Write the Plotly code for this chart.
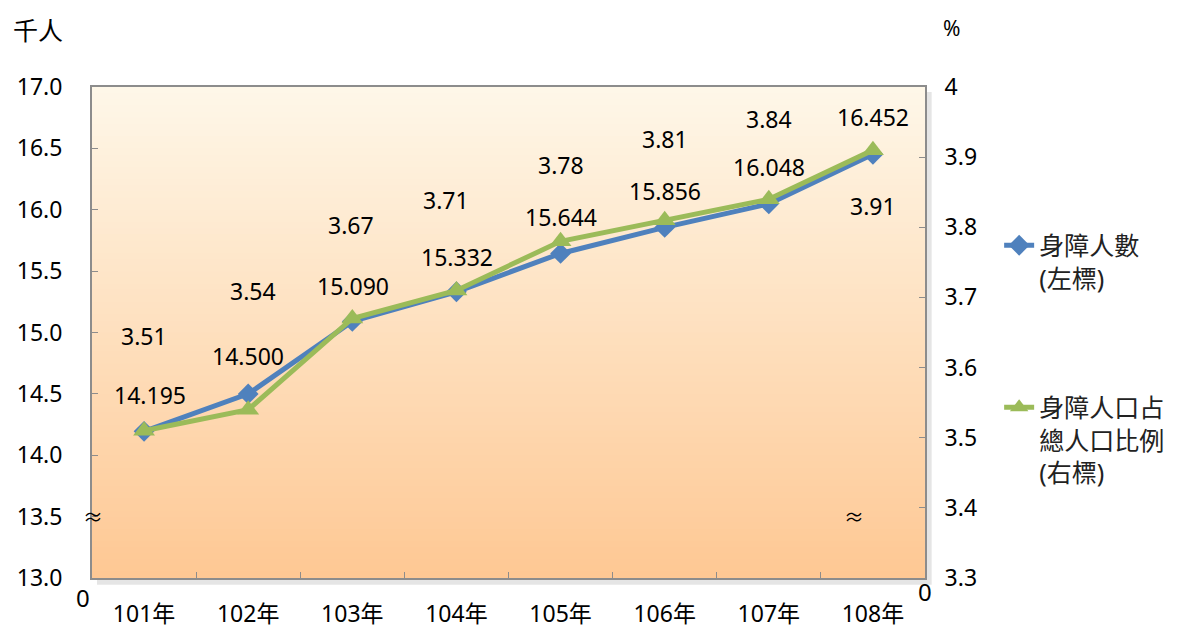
import plotly.graph_objects as go

categories = ["101年", "102年", "103年", "104年", "105年", "106年", "107年", "108年"]
people = [14.195, 14.500, 15.090, 15.332, 15.644, 15.856, 16.048, 16.452]
ratio = [3.51, 3.54, 3.67, 3.71, 3.78, 3.81, 3.84, 3.91]
people_labels = ["14.195", "14.500", "15.090", "15.332", "15.644", "15.856", "16.048", "16.452"]
ratio_labels = ["3.51", "3.54", "3.67", "3.71", "3.78", "3.81", "3.84", "3.91"]
left_ticks = [13.0, 13.5, 14.0, 14.5, 15.0, 15.5, 16.0, 16.5, 17.0]
right_ticks = [3.3, 3.4, 3.5, 3.6, 3.7, 3.8, 3.9, 4.0]
right_tick_text = ["3.3", "3.4", "3.5", "3.6", "3.7", "3.8", "3.9", "4"]

# label offsets (style)
people_dx = [6, 0, 1, 1, 0, 0, 0, 0]
people_dy = [36, 38, 35, 35, 36, 36, 37, 37]
ratio_dx = [0, 5, -1, -10, 0, 0, 0, 0]
ratio_dy = [95, 119, 93, 90, 76, 81, 80, -56]

FONT = "Noto Sans, Noto Sans CJK TC"
BLUE = "#4F81BD"
GREEN = "#9BBB59"

fig = go.Figure()
fig.add_trace(go.Scatter(
    x=categories, y=people, name="身障人數<br>(左標)", mode="lines+markers",
    line=dict(color=BLUE, width=5), marker=dict(symbol="diamond", size=16, color=BLUE),
    legendgroup="a", yaxis="y"))
fig.add_trace(go.Scatter(
    x=categories, y=ratio, name="身障人口占<br>總人口比例<br>(右標)", mode="lines+markers",
    line=dict(color=GREEN, width=5), marker=dict(symbol="triangle-up", size=19, color=GREEN),
    legendgroup="b", yaxis="y2"))

shapes = []
# soft shadow
shapes.append(dict(type="rect", xref="paper", yref="paper", x0=0.006, x1=1.008, y0=-0.014, y1=0.99,
                   fillcolor="rgba(0,0,0,0.10)", line=dict(width=0), layer="below"))
# gradient background
n = 80
top = (254, 247, 232)
bot = (254, 200, 148)
for i in range(n):
    t = i / (n - 1)
    c = tuple(round(bot[k] + (top[k] - bot[k]) * t) for k in range(3))
    shapes.append(dict(type="rect", xref="paper", yref="paper", x0=0, x1=1,
                       y0=i / n, y1=(i + 1) / n + 0.002,
                       fillcolor="rgb(%d,%d,%d)" % c, line=dict(width=0), layer="below"))

ann = []
for c, v, t, dx, dy in zip(categories, people, people_labels, people_dx, people_dy):
    ann.append(dict(x=c, y=v, xref="x", yref="y", text=t, showarrow=False,
                    xanchor="center", yanchor="middle",
                    xshift=dx, yshift=dy, font=dict(size=23, color="black", family=FONT)))
for c, v, t, dx, dy in zip(categories, ratio, ratio_labels, ratio_dx, ratio_dy):
    ann.append(dict(x=c, y=v, xref="x", yref="y2", text=t, showarrow=False,
                    xanchor="center", yanchor="middle",
                    xshift=dx, yshift=dy, font=dict(size=23, color="black", family=FONT)))

extra = [
    ("千人", -0.065, 1.116, 25),
    ("%", 1.032, 1.12, 21),
    ("0", -0.011, -0.039, 24),
    ("0", 1.0, -0.028, 24),
    ("≈", 0.001, 0.124, 20),
    ("≈", 0.915, 0.124, 20),
]
for t, x, y, s in extra:
    ann.append(dict(x=x, y=y, xref="paper", yref="paper", text=t, showarrow=False,
                    xanchor="center", yanchor="middle",
                    font=dict(size=s, color="black", family=FONT)))

fig.update_layout(
    width=1184, height=628,
    margin=dict(l=84, r=267, t=79, b=58, autoexpand=False),
    paper_bgcolor="white", plot_bgcolor="rgba(0,0,0,0)",
    font=dict(family=FONT, size=23, color="black"),
    shapes=shapes, annotations=ann,
    showlegend=True,
    legend=dict(x=1.089, y=0.724, xanchor="left", yanchor="top", valign="top",
                bgcolor="rgba(0,0,0,0)", tracegroupgap=94,
                font=dict(size=25, family=FONT, color="#222")),
    xaxis=dict(type="category", range=[-0.5, 7.5], showline=True, mirror=True,
               linecolor="#8c8c8c", linewidth=2, ticks="inside", tickson="boundaries",
               ticklen=6, tickcolor="#8c8c8c", showgrid=False, zeroline=False,
               automargin=False, ticklabelstandoff=14, tickfont=dict(size=23)),
    yaxis=dict(range=[13.0, 17.0], tickvals=left_ticks, tickformat=".1f",
               showline=True, linecolor="#8c8c8c", linewidth=2, ticks="inside",
               ticklen=6, tickcolor="#8c8c8c", showgrid=False, zeroline=False,
               automargin=False, ticklabelstandoff=23, tickfont=dict(size=23)),
    yaxis2=dict(range=[3.3, 4.0], tickvals=right_ticks, ticktext=right_tick_text,
                overlaying="y", side="right",
                showline=True, linecolor="#8c8c8c", linewidth=2, ticks="inside",
                ticklen=6, tickcolor="#8c8c8c", showgrid=False, zeroline=False,
                automargin=False, ticklabelstandoff=13, tickfont=dict(size=23)),
)

fig.write_html("out.html")
